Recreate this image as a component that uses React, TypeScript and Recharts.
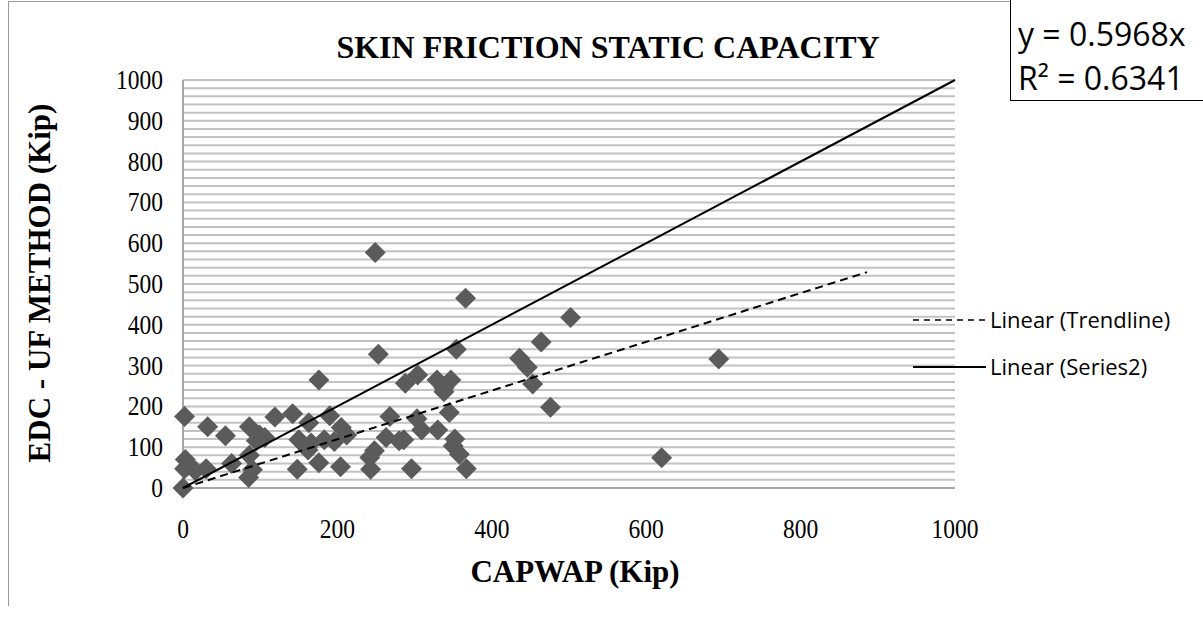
import { CartesianGrid, Scatter, ScatterChart, XAxis, YAxis } from "recharts";

// CAPWAP (x) vs EDC - UF method (y), kips
const capwapKip = [
  0, 2, 3, 7, 2, 16, 30, 32, 55, 63, 86, 99, 106, 95, 86, 90, 85, 119, 142,
  148, 150, 163, 166, 162, 183, 176, 176, 190, 196, 205, 212, 204, 243, 242,
  248, 253, 249, 263, 268, 280, 288, 304, 286, 296, 303, 309, 329, 338, 347,
  338, 330, 345, 352, 350, 358, 354, 366, 367, 436, 446, 453, 464, 476, 502,
  620, 694,
];
const edcKip = [
  0, 175, 70, 56, 47, 42, 47, 150, 128, 60, 150, 130, 124, 116, 80, 45, 26,
  174, 182, 46, 118, 160, 110, 93, 118, 265, 62, 177, 114, 148, 130, 52, 46,
  75, 91, 328, 577, 124, 175, 116, 257, 277, 118, 47, 170, 142, 265, 245, 265,
  236, 142, 185, 120, 103, 83, 340, 465, 47, 318, 296, 255, 358, 198, 418, 74,
  316,
];

// line of equality and fitted trendline (end points)
const series2X = [0, 1000];
const series2Y = [0, 1000];
const trendX = [0, 886];
const trendY = [0, 529];

const xTicks = [0, 200, 400, 600, 800, 1000];
const yLabels = [0, 100, 200, 300, 400, 500, 600, 700, 800, 900, 1000];
const gridStep = 20;
const gridTicks = Array.from({ length: 1000 / gridStep + 1 }, (_, i) => i * gridStep);

const points = capwapKip.map((x, i) => ({ x, y: edcKip[i] }));
const series2 = series2X.map((x, i) => ({ x, y: series2Y[i] }));
const trend = trendX.map((x, i) => ({ x, y: trendY[i] }));

const serif = "'Liberation Serif', 'Times New Roman', serif";
const sans = "'Open Sans', 'Noto Sans', sans-serif";

const Diamond = (props: any) => {
  const { cx, cy } = props;
  if (cx == null || cy == null) return null;
  const r = 10.5;
  return (
    <polygon
      points={`${cx},${cy - r} ${cx + r},${cy} ${cx},${cy + r} ${cx - r},${cy}`}
      fill="#5b5b5b"
    />
  );
};

// tick labels are tall and narrow in the original
const YTick = ({ x, y, payload }: any) => {
  if (!yLabels.includes(payload.value)) return null;
  return (
    <text
      transform={`translate(${x - 18},${y + 9}) scale(0.84,1)`}
      textAnchor="end"
      fontFamily={serif}
      fontSize={28}
      fill="#000"
    >
      {payload.value}
    </text>
  );
};

const XTick = ({ x, y, payload }: any) => (
  <text
    transform={`translate(${x},${y + 48}) scale(0.84,1)`}
    textAnchor="middle"
    fontFamily={serif}
    fontSize={28}
    fill="#000"
  >
    {payload.value}
  </text>
);

export default function App() {
  return (
    <div style={{ position: "absolute", left: 0, top: 0, width: 1203, height: 620, background: "#fff" }}>
      {/* chart frame */}
      <div style={{ position: "absolute", left: 8, top: 1, width: 1002, height: 604, borderLeft: "1.5px solid #9a9a9a", borderTop: "1.5px solid #9a9a9a" }} />
      <ScatterChart
        width={1203}
        height={620}
        margin={{ top: 80, right: 248, bottom: 72, left: 123 }}
        style={{ position: "absolute", left: 0, top: 0 }}
      >
        <CartesianGrid vertical={false} stroke="#c2c2c2" strokeWidth={2} />
        <XAxis
          type="number"
          dataKey="x"
          domain={[0, 1000]}
          ticks={xTicks}
          tick={<XTick />}
          tickLine={false}
          tickSize={0}
          height={60}
          axisLine={{ stroke: "#a6a6a6", strokeWidth: 2 }}
        />
        <YAxis
          type="number"
          dataKey="y"
          domain={[0, 1000]}
          ticks={gridTicks}
          interval={0}
          tick={<YTick />}
          tickLine={false}
          tickSize={0}
          width={60}
          axisLine={{ stroke: "#a6a6a6", strokeWidth: 2 }}
        />
        <Scatter data={points} shape={<Diamond />} isAnimationActive={false} />
        <Scatter
          data={trend}
          line={{ stroke: "#000", strokeWidth: 2, strokeDasharray: "8 5" }}
          shape={() => <g />}
          isAnimationActive={false}
        />
        <Scatter
          data={series2}
          line={{ stroke: "#000", strokeWidth: 2 }}
          shape={() => <g />}
          isAnimationActive={false}
        />
      </ScatterChart>

      <div style={{ position: "absolute", left: 0, width: 1216, top: 27, textAlign: "center", fontFamily: serif, fontWeight: "bold", fontSize: 32, lineHeight: "40px" }}>
        SKIN FRICTION STATIC CAPACITY
      </div>

      <div style={{ position: "absolute", left: 0, width: 1150, top: 552, textAlign: "center", fontFamily: serif, fontWeight: "bold", fontSize: 31, lineHeight: "40px" }}>
        CAPWAP (Kip)
      </div>

      <div
        style={{
          position: "absolute",
          left: 40,
          top: 283,
          transform: "translate(-50%, -50%) rotate(-90deg)",
          whiteSpace: "nowrap",
          fontFamily: serif,
          fontWeight: "bold",
          fontSize: 31,
          lineHeight: "40px",
        }}
      >
        EDC - UF METHOD (Kip)
      </div>

      {/* legend */}
      <svg style={{ position: "absolute", left: 910, top: 305 }} width={80} height={80}>
        <line x1={3} y1={15} x2={76} y2={15} stroke="#000" strokeWidth={1.5} strokeDasharray="6 5" />
        <line x1={3} y1={62} x2={76} y2={62} stroke="#000" strokeWidth={2} />
      </svg>
      <div style={{ position: "absolute", left: 990, top: 304, fontFamily: sans, fontSize: 22, lineHeight: "30px" }}>Linear (Trendline)</div>
      <div style={{ position: "absolute", left: 990, top: 351, fontFamily: sans, fontSize: 22, lineHeight: "30px" }}>Linear (Series2)</div>

      {/* trendline equation box */}
      <div
        style={{
          position: "absolute",
          left: 1010,
          top: 0,
          width: 200,
          height: 101,
          borderLeft: "1.5px solid #000",
          borderBottom: "1.5px solid #000",
          boxSizing: "border-box",
          padding: "12px 0 0 7px",
          fontFamily: sans,
          fontSize: 32,
          whiteSpace: "nowrap",
        }}
      >
        <div style={{ lineHeight: "44px" }}>y = 0.5968x</div>
        <div style={{ lineHeight: "44px" }}>R² = 0.6341</div>
      </div>
    </div>
  );
}
